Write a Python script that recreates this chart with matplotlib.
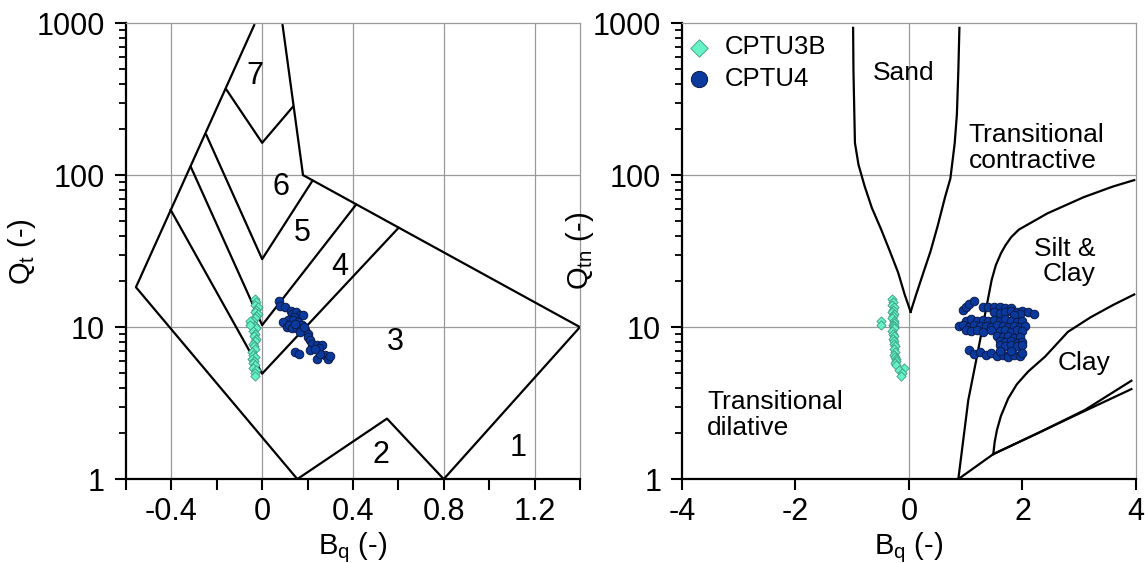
import numpy as np
import matplotlib
matplotlib.use("Agg")
import matplotlib.pyplot as plt
from matplotlib.ticker import FixedLocator, NullFormatter, LogLocator

plt.rcParams["font.family"] = ["Liberation Sans", "DejaVu Sans"]
plt.rcParams["mathtext.fontset"] = "custom"
plt.rcParams["mathtext.rm"] = "Liberation Sans"
plt.rcParams["mathtext.it"] = "Liberation Sans:italic"

# ---------------------------------------------------------------------------
# Data
# ---------------------------------------------------------------------------
# CPTU3B (same normalised cone resistance in both panels)
q_3b = [15.2, 14.6, 14.0, 13.5, 13.0, 12.6, 12.2, 11.8, 11.4, 11.0, 10.7, 10.4,
        10.1, 9.8, 9.4, 9.0, 8.7, 8.4, 8.1, 7.8, 7.5, 7.2, 6.9, 6.6, 6.4, 6.2,
        6.0, 5.8, 5.6, 5.4, 5.2, 5.0, 4.8, 10.9, 10.3]
bq_3b_left = [-0.03, -0.025, -0.03, -0.02, -0.025, -0.03, -0.02, -0.025, -0.03,
              -0.04, -0.05, -0.035, -0.03, -0.025, -0.04, -0.03, -0.035, -0.025,
              -0.03, -0.04, -0.035, -0.03, -0.045, -0.04, -0.03, -0.045, -0.035,
              -0.04, -0.03, -0.04, -0.025, -0.03, -0.03, -0.055, -0.055]
bq_3b_right = [-0.30, -0.28, -0.30, -0.27, -0.29, -0.30, -0.27, -0.28, -0.30,
               -0.27, -0.26, -0.28, -0.26, -0.27, -0.30, -0.28, -0.26, -0.28,
               -0.27, -0.26, -0.25, -0.27, -0.24, -0.26, -0.25, -0.23, -0.22,
               -0.24, -0.22, -0.08, -0.18, -0.12, -0.14, -0.49, -0.49]

# CPTU4, Robertson (1990) panel
bq_4_left = [0.075, 0.08, 0.10, 0.125, 0.13, 0.15, 0.165, 0.18, 0.14, 0.115,
             0.093, 0.137, 0.159, 0.174, 0.108, 0.12, 0.13, 0.152, 0.145, 0.189,
             0.167, 0.2, 0.185, 0.203, 0.21, 0.218, 0.24, 0.262, 0.25, 0.21,
             0.144, 0.163, 0.24, 0.277, 0.291, 0.255, 0.3, 0.235]
qt_4_left = [14.9, 13.8, 13.6, 12.8, 12.2, 12.6, 12.0, 12.1, 11.6, 11.2,
             10.8, 11.1, 10.8, 10.3, 10.0, 10.4, 9.8, 9.9, 10.5, 9.55,
             9.3, 9.0, 10.0, 8.6, 8.2, 7.8, 7.6, 7.6, 7.3, 7.06,
             6.9, 6.65, 6.2, 6.55, 6.2, 6.7, 6.5, 7.2]

# CPTU4, Schneider et al. panel
bq_4_right = [0.95, 1.0, 1.05, 1.15, 1.3, 1.4, 1.5, 1.6, 1.7, 1.8,
              1.5, 1.6, 1.7, 1.8, 1.9, 2.0, 2.1, 2.2, 1.95, 1.85,
              1.0, 1.1, 1.2, 1.3, 1.4, 1.5, 1.6, 1.7, 1.8, 1.9, 2.0,
              0.88, 0.95, 1.05, 1.15, 1.25, 1.35, 1.45, 1.55, 1.65, 1.75, 1.85, 1.95, 2.05,
              1.0, 1.1, 1.2, 1.3, 1.45, 1.6, 1.7, 1.8, 1.9, 2.0,
              1.55, 1.65, 1.75, 1.85, 1.95, 1.6, 1.7, 1.8, 1.9, 2.0, 1.6, 1.7, 1.8, 1.9, 2.0,
              1.05, 1.15, 1.25, 1.35, 1.45, 1.55, 1.65, 1.75, 1.85, 1.95, 2.0, 1.6, 1.8]
qtn_4_right = [13.0, 13.6, 14.2, 14.8, 13.6, 13.6, 13.5, 13.5, 13.4, 13.3,
               12.5, 12.3, 12.6, 12.8, 12.6, 12.8, 12.6, 12.2, 12.2, 12.0,
               11.0, 11.3, 11.0, 11.2, 11.0, 11.1, 11.0, 11.3, 11.0, 10.8, 11.0,
               10.2, 10.4, 10.0, 10.3, 10.1, 10.2, 10.0, 10.3, 10.1, 10.0, 10.2, 10.0, 10.1,
               9.6, 9.4, 9.5, 9.3, 9.5, 9.4, 9.6, 9.3, 9.5, 9.4,
               8.8, 8.6, 8.7, 8.5, 8.6, 8.1, 8.0, 8.1, 7.9, 8.0, 7.6, 7.5, 7.6, 7.5, 7.6,
               7.1, 6.7, 6.9, 6.6, 6.8, 6.5, 6.6, 6.4, 6.6, 6.5, 6.8, 7.0, 7.0]

# Robertson (1990) zone boundaries (Bq, Qt)
outer_bq = [-0.035, -0.556, 0.155, 0.55, 0.8, 1.4, 0.18, 0.09]
outer_qt = [970, 18.3, 1.0, 2.5, 1.0, 10, 100, 970]
zone_lines = [
    ([-0.159, 0.0, 0.135], [368, 163, 281]),
    ([-0.246, 0.0, 0.222], [184, 28, 92]),
    ([-0.314, 0.0, 0.414], [113, 10.3, 64]),
    ([-0.403, 0.0, 0.601], [59, 4.94, 45]),
]
zone_labels = ["7", "6", "5", "4", "3", "2", "1"]
zone_label_bq = [-0.03, 0.082, 0.178, 0.343, 0.588, 0.524, 1.127]
zone_label_qt = [447, 84, 41.5, 25, 8.0, 1.45, 1.6]

# Schneider et al. (2008) boundaries (Bq, Qtn)
sand_left_bq = [-0.984, -0.978, -0.965, -0.952, -0.889, -0.781, -0.654, -0.489,
                -0.337, -0.190, -0.076, 0.03]
sand_left_q = [930, 484, 281, 163, 117, 84.5, 60.9, 43.8, 31.6, 22.8, 16.4, 12.6]
sand_right_bq = [0.03, 0.127, 0.254, 0.381, 0.508, 0.635, 0.73, 0.806, 0.845,
                 0.87, 0.889]
sand_right_q = [12.6, 16.4, 22.8, 31.6, 46.6, 71.4, 95, 162, 252, 484, 930]
silt_bq = [0.87, 1.045, 1.19, 1.457, 1.53, 1.62, 1.70, 1.80, 1.937, 2.44, 3.08,
           3.59, 3.97]
silt_q = [1.0, 3.3, 6.2, 20.4, 25.5, 30.5, 34.5, 39.0, 43.8, 56, 71.6, 84, 92.7]
clay_bq = [1.486, 1.51, 1.55, 1.62, 1.75, 1.9, 2.1, 2.4, 2.8, 3.2, 3.6, 3.97]
clay_q = [1.46, 1.75, 2.1, 2.6, 3.4, 4.2, 5.1, 6.4, 9.3, 11.6, 14.0, 16.4]
low1_bq = [0.87, 1.486, 2.3, 3.0, 3.92]
low1_q = [1.0, 1.46, 2.03, 2.7, 3.91]
low2_bq = [1.486, 2.3, 3.1, 3.92]
low2_q = [1.46, 2.03, 2.85, 4.44]

# ---------------------------------------------------------------------------
# Styling
# ---------------------------------------------------------------------------
c3b_face, c3b_edge = "#66F2C6", "#3C9C82"
c4_face, c4_edge = "#0B3A9E", "#0A1A4A"
lw = 1.6
grid_c = "#9a9a9a"
fs_tick = 22
fs_label = 21
fs_text = 19


def style_axes(ax):
    ax.set_yscale("log")
    ax.set_ylim(1, 1000)
    for side in ["top", "right"]:
        ax.spines[side].set_color(grid_c)
        ax.spines[side].set_linewidth(0.9)
    for side in ["left", "bottom"]:
        ax.spines[side].set_linewidth(1.6)
    ax.yaxis.set_major_locator(FixedLocator([1, 10, 100, 1000]))
    ax.yaxis.set_minor_locator(LogLocator(base=10, subs=np.arange(2, 10)))
    ax.yaxis.set_minor_formatter(NullFormatter())
    ax.set_yticklabels(["1", "10", "100", "1000"])
    ax.tick_params(axis="both", which="major", direction="out", width=1.5,
                   length=8, labelsize=fs_tick, pad=5)
    ax.tick_params(axis="y", which="major", pad=7)
    ax.tick_params(axis="y", which="minor", direction="out", width=1.3, length=5)
    ax.tick_params(axis="x", which="minor", direction="out", width=1.5, length=8)
    for q in [10, 100]:
        ax.axhline(q, color=grid_c, lw=0.9, zorder=0)


fig = plt.figure(figsize=(11.45, 5.63), dpi=100)
ax1 = fig.add_axes([0.110, 0.149, 0.3965, 0.810])
ax2 = fig.add_axes([0.5956, 0.149, 0.3965, 0.810])

# ---- left panel -----------------------------------------------------------
style_axes(ax1)
ax1.set_xlim(-0.6, 1.4)
ax1.xaxis.set_major_locator(FixedLocator([-0.4, 0, 0.4, 0.8, 1.2]))
ax1.xaxis.set_minor_locator(FixedLocator([-0.6, -0.2, 0.2, 0.6, 1.0, 1.4]))
ax1.set_xticklabels(["-0.4", "0", "0.4", "0.8", "1.2"])
for b in [-0.4, 0, 0.4, 0.8, 1.2]:
    ax1.axvline(b, color=grid_c, lw=0.9, zorder=0)

ax1.plot(outer_bq, outer_qt, color="black", lw=lw, zorder=2)
for xs, ys in zone_lines:
    ax1.plot(xs, ys, color="black", lw=lw, zorder=2)
for t, x, y in zip(zone_labels, zone_label_bq, zone_label_qt):
    ax1.text(x, y, t, fontsize=22, ha="center", va="center")

ax1.scatter(bq_3b_left, q_3b, marker="D", s=22, c=c3b_face, edgecolors=c3b_edge,
            linewidths=0.6, zorder=3)
ax1.scatter(bq_4_left, qt_4_left, marker="o", s=38, c=c4_face, edgecolors=c4_edge,
            linewidths=0.7, zorder=4)
ax1.set_xlabel(r"B$_\mathrm{q}$ (-)", fontsize=fs_label, labelpad=2)
ax1.set_ylabel(r"Q$_\mathrm{t}$ (-)", fontsize=fs_label)
ax1.yaxis.set_label_coords(-0.194, 0.5)

# ---- right panel ----------------------------------------------------------
style_axes(ax2)
ax2.set_xlim(-4, 4)
ax2.xaxis.set_major_locator(FixedLocator([-4, -2, 0, 2, 4]))
ax2.set_xticklabels(["-4", "-2", "0", "2", "4"])
ax2.axvline(0, color=grid_c, lw=0.9, zorder=0)

for xs, ys in [(sand_left_bq, sand_left_q), (sand_right_bq, sand_right_q),
               (silt_bq, silt_q), (clay_bq, clay_q),
               (low1_bq, low1_q), (low2_bq, low2_q)]:
    ax2.plot(xs, ys, color="black", lw=lw, zorder=2)

ax2.text(-0.095, 471, "Sand", fontsize=fs_text, ha="center", va="center")
ax2.text(1.05, 150, "Transitional\ncontractive", fontsize=fs_text, ha="left",
         va="center", linespacing=1.1)
ax2.text(3.28, 27, "Silt &\nClay", fontsize=fs_text, ha="right", va="center",
         linespacing=1.1)
ax2.text(3.09, 5.8, "Clay", fontsize=fs_text, ha="center", va="center")
ax2.text(-3.56, 2.64, "Transitional\ndilative", fontsize=fs_text, ha="left",
         va="center", linespacing=1.1)

ax2.scatter(bq_3b_right, q_3b, marker="D", s=22, c=c3b_face, edgecolors=c3b_edge,
            linewidths=0.6, zorder=3, label="CPTU3B")
ax2.scatter(bq_4_right, qtn_4_right, marker="o", s=38, c=c4_face,
            edgecolors=c4_edge, linewidths=0.7, zorder=4, label="CPTU4")
ax2.legend(loc="upper left", bbox_to_anchor=(-0.053, 1.007), frameon=False,
           fontsize=18.5, markerscale=1.9, handletextpad=0.0, labelspacing=0.3,
           borderaxespad=0.2)
ax2.set_xlabel(r"B$_\mathrm{q}$ (-)", fontsize=fs_label, labelpad=2)
ax2.set_ylabel(r"Q$_\mathrm{tn}$ (-)", fontsize=fs_label)
ax2.yaxis.set_label_coords(-0.189, 0.5)

fig.savefig("out.png", dpi=100)
